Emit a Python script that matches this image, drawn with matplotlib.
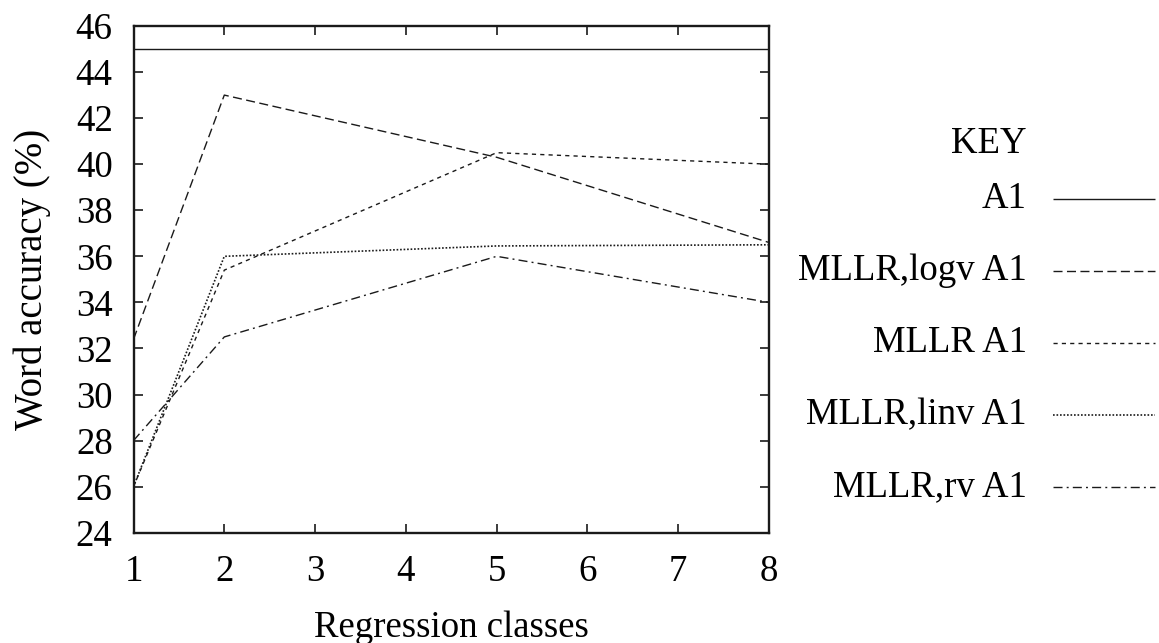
import matplotlib
matplotlib.use("Agg")
import matplotlib.pyplot as plt
from matplotlib.lines import Line2D

plt.rcParams['font.family'] = ['Liberation Serif', 'DejaVu Serif']
plt.rcParams['font.size'] = 26.5

# Word accuracy against number of regression classes
classes = [1, 2, 5, 8]
acc_a1 = [45.0, 45.0, 45.0, 45.0]
acc_logv = [32.4, 43.0, 40.3, 36.6]
acc_mllr = [26.0, 35.4, 40.5, 40.0]
acc_linv = [26.0, 36.0, 36.45, 36.5]
acc_rv = [28.0, 32.5, 36.0, 34.0]

series_labels = ["A1", "MLLR,logv A1", "MLLR A1", "MLLR,linv A1", "MLLR,rv A1"]
x_ticks = [1, 2, 3, 4, 5, 6, 7, 8]
y_ticks = [24, 26, 28, 30, 32, 34, 36, 38, 40, 42, 44, 46]

# line style per series: solid, long dash, short dash, dotted, dash-dot
styles = [
    (0, ()),
    (0, (6.5, 3.2)),
    (0, (3.0, 3.0)),
    (0, (1.0, 1.1)),
    (0, (6.5, 3.0, 1.4, 3.0)),
]
widths = [1.0, 1.0, 1.0, 1.2, 1.0]
ink = "#1a1a1a"

fig = plt.figure(figsize=(11.59, 6.43), dpi=100)
ax = fig.add_axes([0.1152, 0.1715, 0.5483, 0.7881])

all_series = [acc_a1, acc_logv, acc_mllr, acc_linv, acc_rv]
for vals, ls, lw in zip(all_series, styles, widths):
    ax.plot(classes, vals, color=ink, linewidth=lw, linestyle=ls)

ax.set_xlim(1, 8)
ax.set_ylim(24, 46)
ax.set_xticks(x_ticks)
ax.set_yticks(y_ticks)
ax.tick_params(direction='in', length=6.5, width=1.2, color=ink,
               top=True, right=True, labelsize=26.5)
ax.tick_params(axis='y', pad=15)
ax.tick_params(axis='x', pad=16)
for sp in ax.spines.values():
    sp.set_linewidth(1.7)
    sp.set_color(ink)

ax.set_xlabel("Regression classes", fontsize=26.5, labelpad=15)
ax.set_ylabel("Word accuracy (%)", fontsize=28, labelpad=18)

# key on the right
W, H = 1159, 643
text_right = 1027 / W
line_x0, line_x1 = 1053 / W, 1155 / W
fig.text(text_right, 1 - 143.5 / H, "KEY", ha='right', va='center', fontsize=26.5)
row0, row_step = 198.5, 72.0
for i, (lab, ls, lw) in enumerate(zip(series_labels, styles, widths)):
    yy = 1 - (row0 + i * row_step) / H
    fig.text(text_right, yy, lab, ha='right', va='center', fontsize=26.5)
    fig.add_artist(Line2D([line_x0, line_x1], [yy, yy], transform=fig.transFigure,
                          color=ink, linewidth=lw, linestyle=ls))

fig.savefig("out.png", dpi=100, facecolor="white")
